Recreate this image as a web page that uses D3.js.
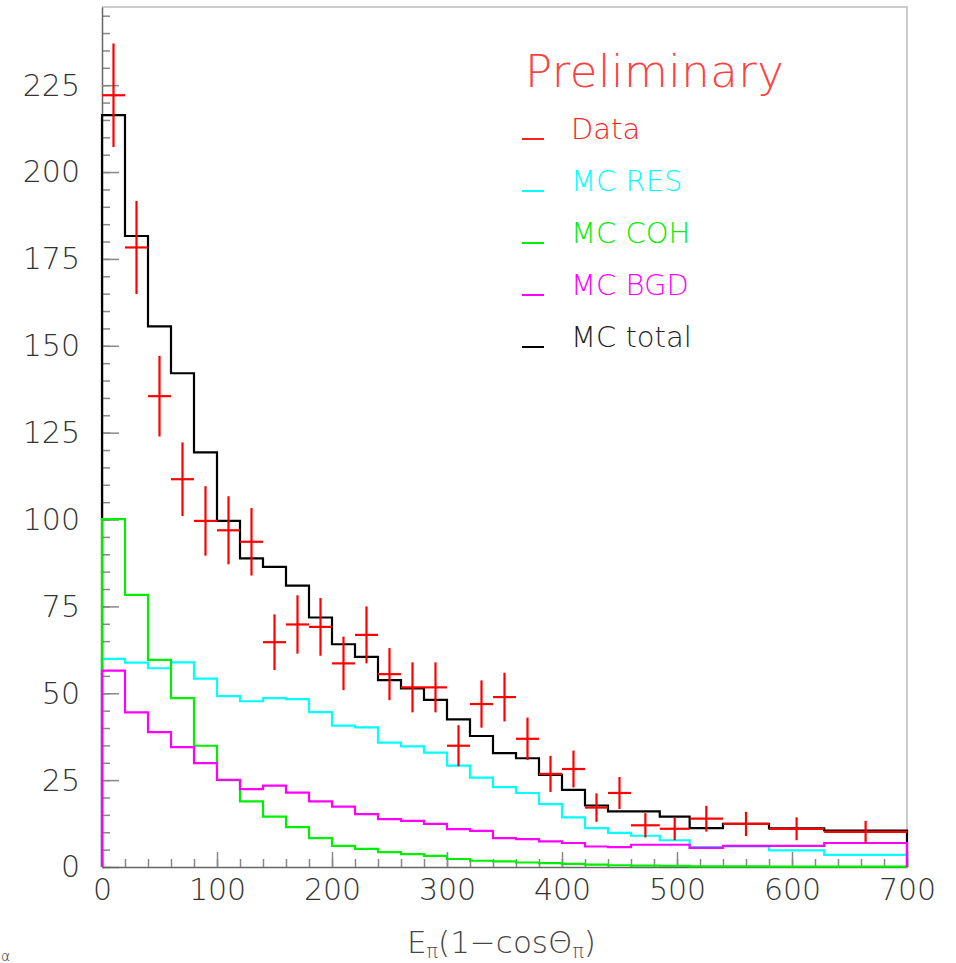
<!DOCTYPE html>
<html>
<head>
<meta charset="utf-8">
<script src="https://cdn.jsdelivr.net/npm/d3@7"></script>
<style>
  body { margin: 0; background: #fff; }
  svg { display: block; }
  text { font-family: "DejaVu Sans", sans-serif; font-weight: 200; }
</style>
</head>
<body>
<svg id="chart" width="956" height="963"></svg>
<script>
// bin edges (20 wide up to 460, wider after)
let binEdges = [0, 20, 40, 60, 80, 100, 120, 140, 160, 180, 200, 220, 240, 260, 280, 300,
    320, 340, 360, 380, 400, 420, 440, 460, 485, 511, 540, 580, 628, 700];

let mcRes = [59.9, 58.8, 57.2, 58.9, 54.2, 49.2, 47.7, 48.6, 48.3, 44.6, 40.7, 40.2, 35.8, 34.7, 32.9,
    29.2, 25.7, 23.0, 21.3, 18.1, 14.3, 11.2, 9.8, 9.0, 7.7, 5.7, 5.9, 4.8, 3.5];
let mcCoh = [100.1, 78.3, 59.6, 48.6, 34.9, 25.0, 18.9, 14.5, 11.5, 8.3, 6.1, 5.2, 4.3, 3.7, 3.2,
    2.3, 1.8, 1.6, 1.3, 1.1, 0.9, 0.7, 0.5, 0.4, 0.3, 0.2, 0.2, 0.1, 0.1];
let mcBgd = [56.5, 44.5, 38.8, 34.5, 29.9, 25.1, 22.4, 23.4, 21.4, 18.9, 17.4, 15.2, 13.8, 13.3, 12.4,
    10.9, 10.4, 8.3, 8.0, 7.4, 6.9, 5.9, 5.7, 6.4, 6.4, 5.5, 6.1, 6.1, 6.9];
let mcTotal = [216.4, 181.6, 155.6, 142.1, 119.3, 99.6, 88.8, 86.4, 81.0, 71.8, 64.1, 60.5, 53.8, 51.4, 48.1,
    42.5, 37.7, 32.8, 31.3, 26.5, 22.2, 17.7, 16.0, 16.0, 14.5, 11.2, 12.4, 11.1, 10.5];
let dataVals = [222.1, 178.3, 135.5, 111.6, 99.6, 96.9, 93.6, 64.7, 69.8, 69.1, 58.6, 66.8, 55.5, 51.7, 51.7,
    34.9, 46.9, 48.9, 36.9, 26.8, 28.2, 17.1, 21.3, 12.0, 11.0, 13.9, 12.4, 11.0, 10.1];
let dataErr = [14.9, 13.4, 11.6, 10.6, 10.0, 9.8, 9.7, 8.0, 8.4, 8.3, 7.7, 8.2, 7.5, 7.2, 7.2,
    5.9, 6.8, 7.0, 6.1, 5.2, 5.3, 4.1, 4.6, 3.5, 3.3, 3.7, 3.5, 3.3, 3.2];

let yMajor = [0, 25, 50, 75, 100, 125, 150, 175, 200, 225];
let xMajor = [0, 100, 200, 300, 400, 500, 600, 700];

let legendItems = [
    {name: 'Data', color: '#ff2020'},
    {name: 'MC RES', color: '#00ffff'},
    {name: 'MC COH', color: '#00ee00'},
    {name: 'MC BGD', color: '#ff00ff'},
    {name: 'MC total', color: '#000000'}
];

let svg = d3.select('#chart');
let x = d3.scaleLinear().domain([0, 700]).range([102, 907]);
let y = d3.scaleLinear().domain([0, 247.5]).range([867, 7]);

// frame (top and right)
svg.append('path')
    .attr('d', 'M' + x(0) + ',' + y(247.5) + 'H' + x(700) + 'V' + y(0))
    .attr('fill', 'none')
    .attr('stroke', '#bbb')
    .attr('stroke-width', 1.5);

// minor ticks
svg.append('g')
    .attr('transform', 'translate(' + x(0) + ',0)')
    .call(d3.axisLeft(y).tickValues(d3.range(0, 246, 5)).tickSize(-8).tickFormat(''))
    .call(g => g.select('.domain').remove());
svg.append('g')
    .attr('transform', 'translate(0,' + y(0) + ')')
    .call(d3.axisBottom(x).tickValues(d3.range(0, 701, 20)).tickSize(-8).tickFormat(''))
    .call(g => g.select('.domain').remove());

// major ticks with labels
let yAxis = svg.append('g')
    .attr('transform', 'translate(' + x(0) + ',0)')
    .call(d3.axisLeft(y).tickValues(yMajor).tickSizeInner(-17).tickSizeOuter(0).tickPadding(22));
yAxis.selectAll('text').attr('font-size', '30px').attr('dy', '0.33em');

let xAxis = svg.append('g')
    .attr('transform', 'translate(0,' + y(0) + ')')
    .call(d3.axisBottom(x).tickValues(xMajor).tickSizeInner(-15).tickSizeOuter(0).tickPadding(12));
xAxis.selectAll('text').attr('font-size', '30px');

svg.selectAll('.tick line').attr('stroke', '#888').attr('stroke-width', 1.5);
svg.selectAll('.tick text').attr('fill', '#333').attr('font-family', '"DejaVu Sans", sans-serif');
svg.selectAll('.domain').attr('stroke', '#666').attr('stroke-width', 1.5);

// histograms
function stepPoints(vals) {
    let pts = [[binEdges[0], 0]];
    for (let i = 0; i < vals.length; i++) {
        pts.push([binEdges[i], vals[i]]);
        pts.push([binEdges[i + 1], vals[i]]);
    }
    pts.push([binEdges[vals.length], 0]);
    return pts;
}

let line = d3.line().x(d => x(d[0])).y(d => y(d[1]));

let series = [
    {vals: mcTotal, color: '#000000'},
    {vals: mcRes, color: '#00ffff'},
    {vals: mcCoh, color: '#00ee00'},
    {vals: mcBgd, color: '#ff00ff'}
];
series.forEach(s => {
    svg.append('path')
        .attr('d', line(stepPoints(s.vals)))
        .attr('fill', 'none')
        .attr('stroke', s.color)
        .attr('stroke-width', 2.2);
});

// data crosses
let pts = dataVals.map((v, i) => ({lo: binEdges[i], hi: binEdges[i + 1], v: v, e: dataErr[i]}));
let dg = svg.append('g').attr('stroke', '#ff0000').attr('stroke-width', 2.2);
dg.selectAll('.hbar').data(pts).join('line')
    .attr('x1', d => x(d.lo)).attr('x2', d => x(d.hi))
    .attr('y1', d => y(d.v)).attr('y2', d => y(d.v));
dg.selectAll('.vbar').data(pts).join('line')
    .attr('x1', d => x((d.lo + d.hi) / 2)).attr('x2', d => x((d.lo + d.hi) / 2))
    .attr('y1', d => y(d.v - d.e)).attr('y2', d => y(d.v + d.e));

// legend
svg.append('text')
    .attr('x', 525).attr('y', 87)
    .attr('font-size', '45px')
    .attr('fill', '#ff4040')
    .attr('textLength', 259)
    .text('Preliminary');

legendItems.forEach((item, i) => {
    let ly = 139 + i * 52;
    svg.append('line')
        .attr('x1', 522).attr('x2', 544)
        .attr('y1', ly).attr('y2', ly)
        .attr('stroke', item.color)
        .attr('stroke-width', 2);
    svg.append('text')
        .attr('x', 571).attr('y', ly)
        .attr('font-size', '29px')
        .attr('fill', item.color == '#000000' ? '#222' : item.color)
        .text(item.name);
});

// x axis title
let title = svg.append('text')
    .attr('x', 407).attr('y', 953)
    .attr('font-size', '31px')
    .attr('fill', '#444');
title.append('tspan').text('E');
title.append('tspan').attr('font-size', '19px').attr('dy', 5).text('π');
title.append('tspan').attr('dy', -5).text('(1−cosΘ');
title.append('tspan').attr('font-size', '19px').attr('dy', 5).text('π');
title.append('tspan').attr('dy', -5).text(')');

// small glyph at bottom left
svg.append('text')
    .attr('x', 1).attr('y', 961)
    .attr('font-size', '14px')
    .attr('fill', '#333')
    .text('α');
</script>
</body>
</html>
